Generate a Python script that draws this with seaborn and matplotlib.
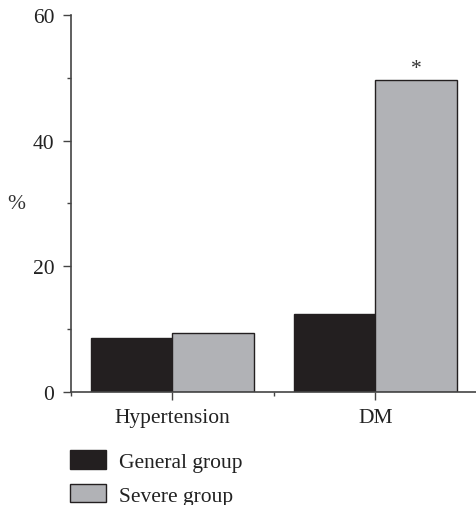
import matplotlib
matplotlib.use("Agg")
import matplotlib.pyplot as plt
import seaborn as sns
import pandas as pd
from matplotlib.patches import Patch
from matplotlib.ticker import MultipleLocator, FixedLocator

categories = ["Hypertension", "DM"]
groups = ["General group", "Severe group"]
general_values = [8.7, 12.5]
severe_values = [9.4, 49.6]
y_ticks = [0, 20, 40, 60]

df = pd.DataFrame({
    "category": categories * 2,
    "group": [groups[0]] * 2 + [groups[1]] * 2,
    "value": general_values + severe_values,
})

sns.set_theme(style="ticks")
plt.rcParams["font.family"] = ["Liberation Serif", "DejaVu Serif"]
dark = "#231f20"
grey = "#b1b2b6"
palette = {groups[0]: dark, groups[1]: grey}
fs = 15.5

fig = plt.figure(figsize=(4.77, 5.06), dpi=100)
ax = fig.add_axes([0.1488, 0.2227, 0.8512, 0.7463])

sns.barplot(data=df, x="category", y="value", hue="group", order=categories,
            hue_order=groups, palette=palette, edgecolor=dark, linewidth=1.0,
            saturation=1, width=0.8, ax=ax, legend=False)

ax.set_ylim(0, 60)
ax.set_xlim(-0.5, 1.5)
ax.set_yticks(y_ticks)
ax.yaxis.set_minor_locator(MultipleLocator(10))
ax.xaxis.set_minor_locator(FixedLocator([-0.5, 0.5, 1.5]))
ax.set_xlabel("")
ax.set_ylabel("%", rotation=0, fontsize=fs, color="#333333", va="center", ha="center")
ax.yaxis.set_label_coords(-0.135, 0.5)

for s in ["top", "right"]:
    ax.spines[s].set_visible(False)
for s in ["left", "bottom"]:
    ax.spines[s].set_color("#444444")
    ax.spines[s].set_linewidth(1.2)

ax.tick_params(axis="both", which="major", length=6, width=1.0, color="#444444",
               labelsize=fs, labelcolor="#222222", direction="out")
ax.tick_params(axis="both", which="minor", length=3, width=1.0, color="#444444", direction="out")
ax.tick_params(axis="x", which="major", pad=5)
ax.tick_params(axis="y", which="major", pad=6)

# significance marker
ax.text(1.2, severe_values[1] + 0.4, "*", ha="center", va="bottom", fontsize=fs, color="#333333")

handles = [Patch(facecolor=palette[g], edgecolor=dark, linewidth=1.0, label=g) for g in groups]
fig.legend(handles=handles, loc="upper left", bbox_to_anchor=(0.1468, 0.108),
           frameon=False, fontsize=fs, handlelength=1.67, handleheight=0.93,
           handletextpad=0.6, labelspacing=0.56, borderpad=0, borderaxespad=0,
           labelcolor="#222222")

fig.savefig("out.png", dpi=100, facecolor="white")
